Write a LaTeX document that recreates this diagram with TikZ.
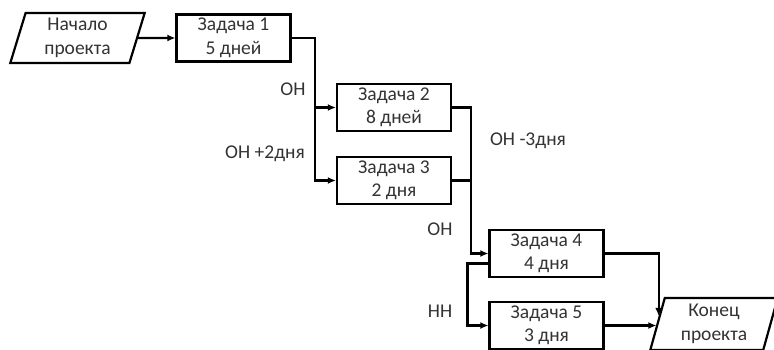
\documentclass[tikz,border=0pt]{standalone}
\usepackage{fontspec}
\setmainfont{Carlito}
\usetikzlibrary{shapes.geometric,arrows.meta,calc}
\begin{document}
\begin{tikzpicture}[x=1pt,y=-1pt,
  font=\fontsize{19.5}{23.5}\selectfont,
  task/.style={draw, line width=2.2pt, text=black!80, align=center, minimum width=114pt, minimum height=47pt, inner sep=0pt},
  term/.style={draw, line width=2.2pt, text=black!80, align=center, trapezium, trapezium left angle=76, trapezium right angle=104, trapezium stretches=true, inner sep=0pt},
  link/.style={line width=2.2pt, -{Latex[length=8pt,width=7pt]}},
  line/.style={line width=2.2pt},
  lag/.style={text=black!80, inner sep=0pt}]
\useasboundingbox (0,0) rectangle (774,350);
\node[term, minimum width=135pt, minimum height=50pt] (start) at (77.5,38) {Начало\\проекта};
\node[task] (t1) at (233.5,38) {Задача 1\\5 дней};
\node[task] (t2) at (394,107.5) {Задача 2\\8 дней};
\node[task] (t3) at (394,180.5) {Задача 3\\2 дня};
\node[task] (t4) at (546.5,253.5) {Задача 4\\4 дня};
\node[task] (t5) at (546.5,325.5) {Задача 5\\3 дня};
\node[term, minimum width=128pt, minimum height=52pt] (finish) at (714,324) {Конец\\проекта};

\node[lag] (l12) at (293,89) {ОН};
\node[lag] (l13) at (265,154) {ОН +2дня};
\node[lag] (l24) at (528,141) {ОН -3дня};
\node[lag] (l34) at (440,229) {ОН};
\node[lag] (l45) at (440,311) {НН};

\draw[link] (start) -- (t1);
\draw[link] (t1.east) -- ++(23,0) |- (t2.west);
\draw[link] (t1.east) -- ++(23,0) |- (t3.west);
\draw[link] (t2.east) -- ++(19,0) |- (t4.west);
\draw[line] (t3.east) -- ++(19,0);
\coordinate (nnout) at ([yshift=-10pt]t4.west);
\draw[link] (nnout) -- ++(-21,0) |- (t5.west);
\coordinate (finin) at ($(finish.top left corner)!0.35!(finish.bottom left corner)$);
\draw[link] (t4.east) -| (finin);
\draw[link] (t5.east) -- (t5.east -| finish.left side);
\end{tikzpicture}
\end{document}
